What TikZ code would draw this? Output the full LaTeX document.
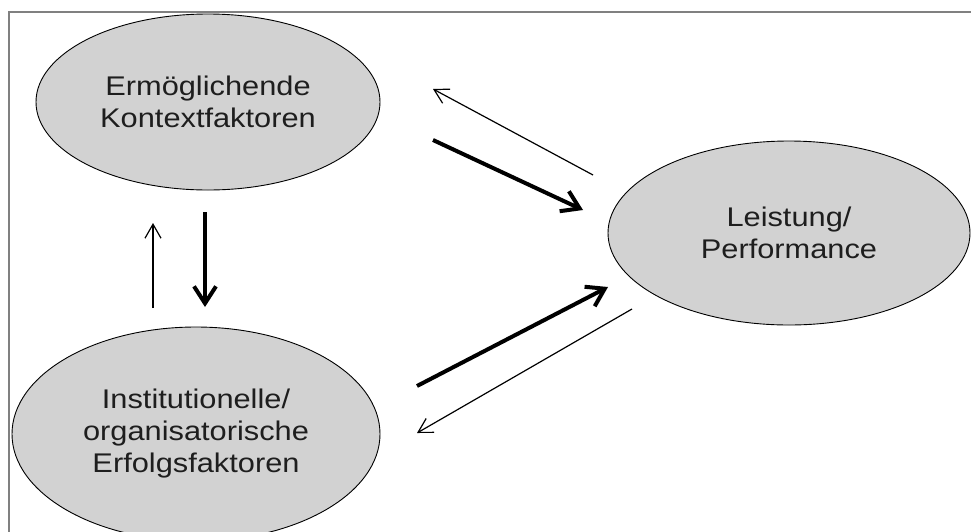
\documentclass[tikz,border=0pt]{standalone}
\usepackage{fontspec}
\setmainfont[FakeStretch=1.14]{Liberation Sans}
\usetikzlibrary{shapes.geometric,arrows.meta}
\definecolor{ellfill}{RGB}{210,210,210}
\definecolor{framegray}{RGB}{128,128,128}
\definecolor{txt}{RGB}{30,30,30}
\tikzset{
  oval/.style={ellipse, draw=black, line width=0.9pt, fill=ellfill, inner sep=0pt,
    align=center, text=txt, font=\fontsize{27}{32}\selectfont},
  thickarr/.style={line width=4pt, -{Straight Barb[length=17pt,width=22pt]}},
  thinarr/.style={line width=1.2pt, -{Straight Barb[length=14pt,width=16pt]}},
}
\begin{document}
\begin{tikzpicture}[x=1pt,y=-1pt]
\useasboundingbox (0,0) rectangle (971,531);
\fill[white] (0,0) rectangle (971,531);
\draw[framegray, line width=1.5pt] (9,540) -- (9,12) -- (980,12);
\node[oval, minimum width=344pt, minimum height=176pt] (ek) at (208,102) {Ermöglichende\\Kontextfaktoren};
\node[oval, minimum width=362pt, minimum height=184pt] (lp) at (789,233) {Leistung/\\Performance};
\node[oval, minimum width=368pt, minimum height=214pt] (io) at (196,434) {Institutionelle/\\organisatorische\\Erfolgsfaktoren};
% arrow endpoints
\coordinate (a1s) at (593,175); \coordinate (a1e) at (433,89);
\coordinate (a2s) at (433,140); \coordinate (a2e) at (583,210);
\coordinate (a3s) at (417,386); \coordinate (a3e) at (608,287);
\coordinate (a4s) at (632,309); \coordinate (a4e) at (417,433);
\coordinate (a5s) at (153,308); \coordinate (a5e) at (153,223);
\coordinate (a6s) at (205,212); \coordinate (a6e) at (205,307);
\draw[thinarr] (a1s) -- (a1e);
\draw[thickarr] (a2s) -- (a2e);
\draw[thickarr] (a3s) -- (a3e);
\draw[thinarr] (a4s) -- (a4e);
\draw[thinarr] (a5s) -- (a5e);
\draw[thickarr] (a6s) -- (a6e);
\end{tikzpicture}
\end{document}
